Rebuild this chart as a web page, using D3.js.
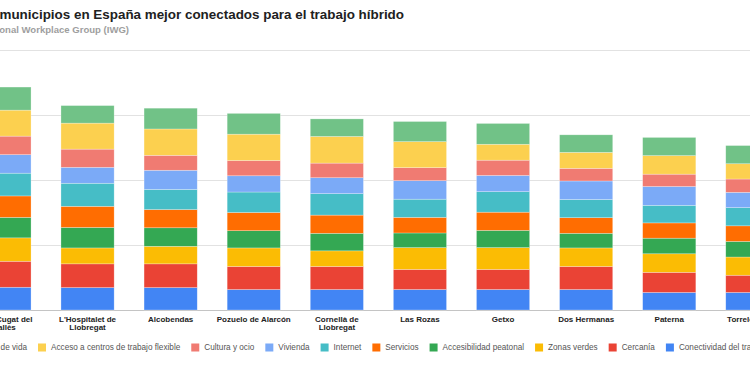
<!DOCTYPE html>
<html>
<head>
<meta charset="utf-8">
<script src="https://cdn.jsdelivr.net/npm/d3@7"></script>
<style>
  body { margin: 0; background: #fff; }
  svg { display: block; font-family: "Liberation Sans", Arial, sans-serif; }
</style>
</head>
<body>
<svg id="chart"></svg>
<script>
// chart data
const categories = [
  "Sant Cugat del Vallès", "L'Hospitalet de Llobregat", "Alcobendas",
  "Pozuelo de Alarcón", "Cornellà de Llobregat", "Las Rozas", "Getxo",
  "Dos Hermanas", "Paterna", "Torrelodones"
];

// stack order, bottom to top
const seriesNames = [
  "Conectividad del transporte", "Cercanía", "Zonas verdes",
  "Accesibilidad peatonal", "Servicios", "Internet", "Vivienda",
  "Cultura y ocio", "Acceso a centros de trabajo flexible", "Calidad de vida"
];

const conectividad = [7.0, 6.9, 6.9, 6.3, 6.3, 6.3, 6.3, 6.3, 5.4, 5.4];
const cercania     = [8.0, 7.3, 7.3, 7.1, 7.1, 6.2, 6.2, 7.1, 6.2, 5.3];
const zonasVerdes  = [7.2, 4.9, 5.4, 5.7, 4.8, 6.7, 6.7, 5.7, 5.7, 5.6];
const peatonal     = [6.3, 6.3, 5.7, 5.3, 5.4, 4.5, 5.3, 4.5, 4.8, 4.8];
const servicios    = [6.6, 6.5, 5.6, 5.6, 5.6, 4.8, 5.6, 4.8, 4.7, 4.8];
const internet     = [7.0, 7.1, 6.2, 6.3, 6.6, 5.6, 6.3, 5.6, 5.4, 5.6];
const vivienda     = [5.7, 4.9, 5.9, 5.0, 4.9, 5.7, 5.0, 5.7, 5.8, 4.7];
const cultura      = [5.7, 5.6, 4.6, 4.7, 4.5, 4.0, 4.7, 3.9, 3.8, 4.1];
const accesoCentros = [8.0, 8.0, 8.1, 8.1, 8.2, 8.0, 4.9, 4.9, 5.7, 4.7];
const calidadVida  = [7.1, 5.4, 6.4, 6.4, 5.4, 6.2, 6.4, 5.4, 5.6, 5.6];

const seriesValues = [conectividad, cercania, zonasVerdes, peatonal, servicios,
  internet, vivienda, cultura, accesoCentros, calidadVida];

const yTicks = [0, 20, 40, 60, 80];

const colors = ["#4285F4", "#EA4335", "#FBBC04", "#34A853", "#FF6D01",
  "#46BDC6", "#7BAAF7", "#F07B72", "#FCD04F", "#71C287"];

const width = 750;
const height = 375;

const svg = d3.select("#chart")
  .attr("width", width)
  .attr("height", height);

// the picture is a crop of a wider chart, so the scale runs past both edges
const x = d3.scaleBand()
  .domain(categories)
  .range([-37.1, 793.9])
  .paddingInner(0.36)
  .paddingOuter(0.18);

const y = d3.scaleLinear()
  .domain([0, 80])
  .range([310, 50]);

// gridlines
svg.append("g")
  .attr("class", "grid")
  .call(d3.axisLeft(y).tickValues(yTicks).tickSize(-width).tickFormat(""))
  .call(g => g.select(".domain").remove())
  .call(g => g.selectAll(".tick line")
    .attr("stroke", d => d === 0 ? "#c4c4c4" : "#e2e2e2")
    .attr("stroke-width", 1));

const rows = categories.map((c, i) => {
  const row = { category: c };
  seriesNames.forEach((s, j) => { row[s] = seriesValues[j][i]; });
  return row;
});

const stacked = d3.stack().keys(seriesNames)(rows);

svg.append("g")
  .selectAll("g")
  .data(stacked)
  .enter()
  .append("g")
  .attr("fill", (d, i) => colors[i])
  .selectAll("rect")
  .data(d => d)
  .enter()
  .append("rect")
  .attr("x", d => x(d.data.category))
  .attr("y", d => y(d[1]))
  .attr("width", x.bandwidth())
  .attr("height", d => y(d[0]) - y(d[1]))
  .attr("stroke", "#fff")
  .attr("stroke-opacity", 0.45)
  .attr("stroke-width", 0.6);

// category labels
const xAxis = svg.append("g")
  .attr("transform", "translate(0,310)")
  .call(d3.axisBottom(x).tickSize(0))
  .call(g => g.select(".domain").remove());

xAxis.selectAll(".tick text")
  .attr("dy", null)
  .attr("font-size", 8)
  .attr("font-weight", "bold")
  .attr("fill", "#222")
  .attr("font-family", "Liberation Sans, Arial, sans-serif")
  .call(wrap, 78);

function wrap(texts, maxWidth) {
  texts.each(function () {
    const text = d3.select(this);
    const words = text.text().split(" ");
    text.text(null).attr("y", 0);
    let line = [];
    let lineNo = 0;
    let tspan = text.append("tspan").attr("x", 0).attr("y", 12);
    words.forEach(w => {
      line.push(w);
      tspan.text(line.join(" "));
      if (tspan.node().getComputedTextLength() > maxWidth && line.length > 1) {
        line.pop();
        tspan.text(line.join(" "));
        line = [w];
        lineNo++;
        tspan = text.append("tspan").attr("x", 0).attr("y", 12 + lineNo * 7.6).text(w);
      }
    });
  });
}

// title and subtitle; the crop cuts off their left ends
function cutText(str, visible, rightX, baseY, visibleWidth, weight, fill) {
  const t = svg.append("text")
    .attr("font-size", 10)
    .attr("font-weight", weight)
    .text(visible);
  const size = 10 * visibleWidth / t.node().getComputedTextLength();
  t.remove();
  svg.append("text")
    .attr("x", rightX)
    .attr("y", baseY)
    .attr("text-anchor", "end")
    .attr("font-size", size)
    .attr("font-weight", weight)
    .attr("fill", fill)
    .text(str);
}

cutText("Los 10 municipios en España mejor conectados para el trabajo híbrido",
  "municipios en España mejor conectados para el trabajo híbrido",
  404, 19, 405, "bold", "#212121");

cutText("Fuente: International Workplace Group (IWG)",
  "onal Workplace Group (IWG)",
  129, 32.5, 130, "bold", "#9e9e9e");

// legend, listed from top of the stack down
const legendItems = seriesNames.map((s, i) => ({ name: s, color: colors[i] })).reverse();

const legend = svg.append("g");
let cursor = 0;
const starts = [];
legendItems.forEach(item => {
  const g = legend.append("g");
  g.append("rect")
    .attr("x", cursor)
    .attr("y", 343.5)
    .attr("width", 8)
    .attr("height", 8)
    .attr("fill", item.color);
  const t = g.append("text")
    .attr("x", cursor + 13)
    .attr("y", 350.3)
    .attr("font-size", 8.2)
    .attr("fill", "#555")
    .text(item.name);
  starts.push(cursor);
  cursor += 13 + t.node().getComputedTextLength() + 11;
});
// second entry's swatch sits at x = 38 in the reference
legend.attr("transform", `translate(${38 - starts[1]},0)`);
</script>
</body>
</html>
